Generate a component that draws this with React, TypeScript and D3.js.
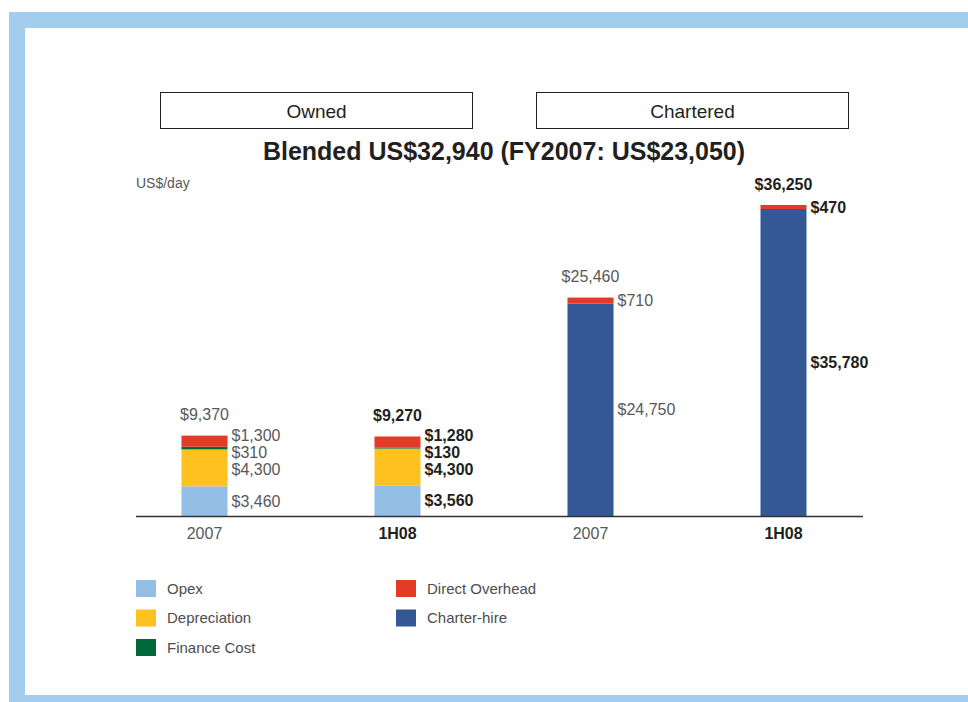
import React from "react";
import * as d3 from "d3";

const categories = ["2007", "1H08", "2007", "1H08"];
const boldCategory = [false, true, false, true];
const groupNames = ["Owned", "Chartered"];
const seriesNames = ["Opex", "Depreciation", "Finance Cost", "Direct Overhead", "Charter-hire"];
const stackOrder = ["Opex", "Depreciation", "Finance Cost", "Charter-hire", "Direct Overhead"];
const opex = [3460, 3560, 0, 0];
const depreciation = [4300, 4300, 0, 0];
const financeCost = [310, 130, 0, 0];
const directOverhead = [1300, 1280, 710, 470];
const charterHire = [0, 0, 24750, 35780];
const totals = [9370, 9270, 25460, 36250];
const title = "Blended US$32,940 (FY2007: US$23,050)";
const unitLabel = "US$/day";

const colors: Record<string, string> = {
  Opex: "#93bee5",
  Depreciation: "#fdc120",
  "Finance Cost": "#00693a",
  "Direct Overhead": "#e43a28",
  "Charter-hire": "#345896",
};
const FONT = "'Liberation Sans', Arial, Helvetica, sans-serif";

const W = 968;
const H = 702;
const baseY = 516;
const barW = 46;

export default function App() {
  const seriesValues: Record<string, number[]> = {
    Opex: opex,
    Depreciation: depreciation,
    "Finance Cost": financeCost,
    "Direct Overhead": directOverhead,
    "Charter-hire": charterHire,
  };
  const rows = categories.map((c, i) => {
    const r: any = { idx: i };
    seriesNames.forEach((k) => (r[k] = seriesValues[k][i]));
    return r;
  });
  const stacked = d3.stack<any>().keys(stackOrder)(rows);

  const x = d3
    .scalePoint<number>()
    .domain(categories.map((_, i) => i))
    .range([108, 880])
    .padding(0.5);
  const y = d3.scaleLinear().domain([0, 40000]).range([baseY, baseY - 40000 * 0.00858]);

  const fmt = (v: number) => "$" + d3.format(",")(v);

  const labels: any[] = [];
  categories.forEach((_, i) => {
    const segs: any[] = [];
    stacked.forEach((s) => {
      const d = s[i];
      const v = d[1] - d[0];
      if (v > 0) segs.push({ v, yc: (y(d[0]) + y(d[1])) / 2 });
    });
    const ys = segs.map((s) => s.yc);
    const gap = 17;
    for (let it = 0; it < 50; it++) {
      for (let k = 0; k < ys.length - 1; k++) {
        const diff = ys[k] - ys[k + 1];
        if (diff < gap) {
          const push = (gap - diff) / 2;
          ys[k] += push;
          ys[k + 1] -= push;
        }
      }
    }
    segs.forEach((s, k) => labels.push({ i, y: ys[k], text: fmt(s.v) }));
  });

  const textStyle = (bold: boolean) => ({
    fontFamily: FONT,
    fontSize: 16,
    fontWeight: bold ? 700 : 400,
    fill: bold ? "#231f20" : "#58585a",
  });

  return (
    <div style={{ position: "absolute", left: 0, top: 0 }}>
      <svg width={W} height={H} style={{ display: "block" }}>
        <rect x={0} y={0} width={W} height={H} fill="#ffffff" />
        <rect x={9} y={12} width={W - 9} height={H - 12} fill="#a3cdee" />
        <rect x={25} y={28} width={W - 25} height={695 - 28} fill="#ffffff" />

        {groupNames.map((g, gi) => {
          const x0 = gi === 0 ? 160.5 : 536.5;
          return (
            <g key={g}>
              <rect x={x0} y={92.5} width={312} height={36} fill="none" stroke="#231f20" strokeWidth={1} />
              <text
                x={x0 + 156}
                y={111}
                dy="0.35em"
                textAnchor="middle"
                style={{ fontFamily: FONT, fontSize: 19, fill: "#231f20" }}
              >
                {g}
              </text>
            </g>
          );
        })}
        <text
          x={504}
          y={151}
          dy="0.35em"
          textAnchor="middle"
          style={{ fontFamily: FONT, fontSize: 25, fontWeight: 700, fill: "#231f20" }}
        >
          {title}
        </text>
        <text x={136} y={183} dy="0.35em" style={{ fontFamily: FONT, fontSize: 14, fill: "#58585a" }}>
          {unitLabel}
        </text>

        {stacked.map((s) => (
          <g key={s.key} fill={colors[s.key]}>
            {s.map((d, i) =>
              d[1] - d[0] > 0 ? (
                <rect
                  key={i}
                  x={(x(i) as number) - barW / 2}
                  y={y(d[1])}
                  width={barW}
                  height={y(d[0]) - y(d[1])}
                />
              ) : null
            )}
          </g>
        ))}

        <line x1={136} x2={863} y1={baseY + 0.5} y2={baseY + 0.5} stroke="#333333" strokeWidth={1.5} />
        {categories.map((c, i) => (
          <text key={i} x={x(i)} y={533} dy="0.35em" textAnchor="middle" style={textStyle(boldCategory[i])}>
            {c}
          </text>
        ))}

        {labels.map((l, k) => (
          <text
            key={k}
            x={(x(l.i) as number) + barW / 2 + 4}
            y={l.y}
            dy="0.35em"
            style={textStyle(boldCategory[l.i])}
          >
            {l.text}
          </text>
        ))}

        {totals.map((t, i) => (
          <text
            key={i}
            x={x(i)}
            y={y(t) - 21}
            dy="0.35em"
            textAnchor="middle"
            style={textStyle(boldCategory[i])}
          >
            {fmt(t)}
          </text>
        ))}

        {seriesNames.map((n, j) => {
          const col = j < 3 ? 0 : 1;
          const row = j < 3 ? j : j - 3;
          const lx = col === 0 ? 136 : 396;
          const ly = 580 + row * 29.5;
          return (
            <g key={n}>
              <rect x={lx} y={ly} width={20} height={17} fill={colors[n]} />
              <text x={lx + 31} y={ly + 8.5} dy="0.35em" style={{ fontFamily: FONT, fontSize: 15, fill: "#4d4d4f" }}>
                {n}
              </text>
            </g>
          );
        })}
      </svg>
    </div>
  );
}
